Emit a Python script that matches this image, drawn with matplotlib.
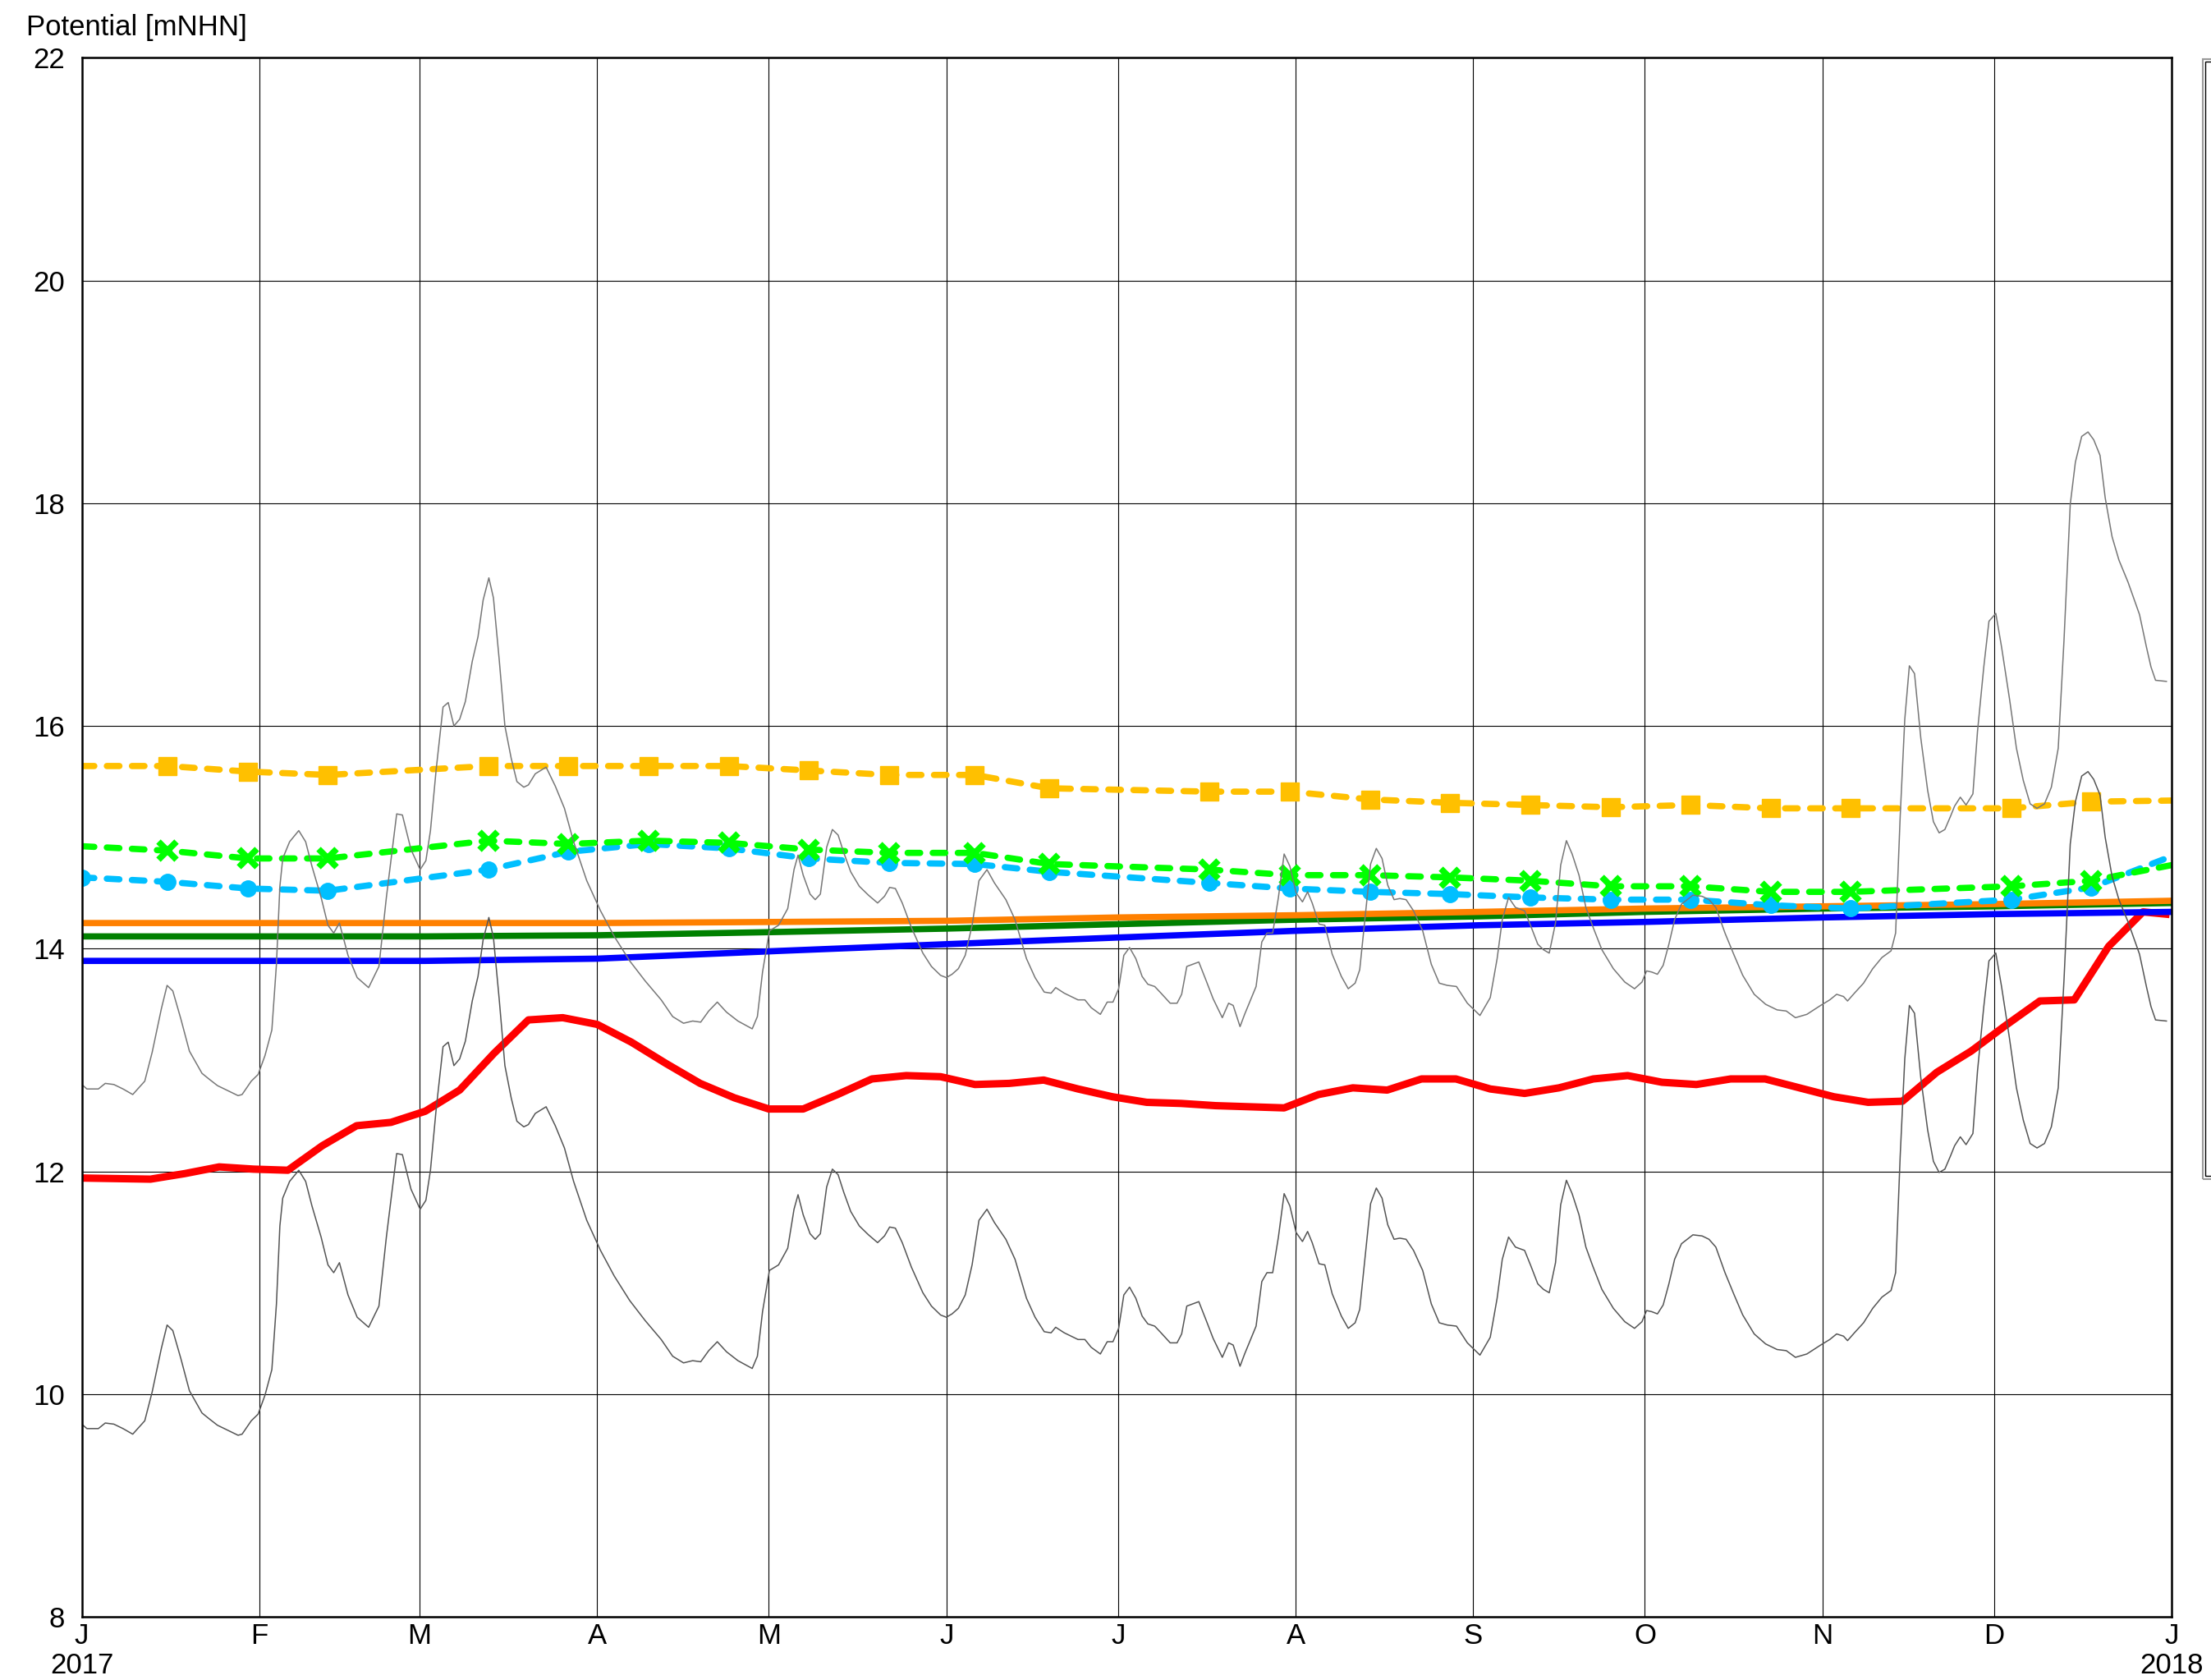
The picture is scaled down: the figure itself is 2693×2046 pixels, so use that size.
import datetime as dt
import matplotlib
matplotlib.use("Agg")
import matplotlib.pyplot as plt
from matplotlib.patches import Rectangle

plt.rcParams['font.family'] = ['Liberation Sans', 'DejaVu Sans']

# ---------------- data ----------------
month_labels = ['J', 'F', 'M', 'A', 'M', 'J', 'J', 'A', 'S', 'O', 'N', 'D', 'J']
year_labels = ['2017', '2018']
y_ticks = [8, 10, 12, 14, 16, 18, 20, 22]
y_label = 'Potential [mNHN]'

# day offsets from 2017-01-01 for the daily gauge records (grey)
gray_days = [
    0.0, 0.9, 2.9, 4.1, 5.6, 7.2, 8.9, 11.0, 12.3, 13.9,
    14.9, 15.9, 17.3, 18.8, 21.0, 22.2, 23.7, 25.7, 27.3, 28.0,
    29.6, 30.8, 32.0, 33.2, 34.0, 34.6, 35.1, 36.3, 37.9, 39.1,
    40.2, 41.8, 43.0, 44.0, 45.0, 46.5, 48.1, 50.1, 51.9, 53.2,
    54.4, 55.0, 56.0, 57.5, 59.1, 60.1, 60.9, 61.9, 63.1, 64.0,
    65.0, 66.0, 67.0, 68.2, 69.2, 70.1, 71.1, 71.9, 72.9, 73.9,
    75.0, 76.0, 77.2, 78.0, 79.2, 81.1, 82.7, 84.3, 85.9, 88.2,
    90.6, 93.0, 95.7, 98.4, 101.2, 103.2, 105.1, 106.7, 108.1, 109.5,
    111.0, 112.6, 114.6, 117.1, 118.0, 118.9, 120.1, 121.7, 123.3, 124.4,
    125.1, 126.0, 127.2, 128.1, 129.0, 130.1, 131.1, 132.1, 133.1, 134.3,
    135.8, 137.4, 139.0, 140.2, 141.1, 142.1, 143.3, 144.9, 146.9, 148.4,
    150.0, 151.0, 152.0, 153.1, 154.3, 155.5, 156.7, 158.1, 159.4, 161.4,
    163.0, 165.0, 166.5, 168.1, 169.3, 170.1, 171.6, 174.0, 175.2, 176.3,
    177.9, 179.1, 180.1, 181.1, 182.0, 183.0, 184.1, 185.2, 186.2, 187.4,
    188.5, 190.1, 191.3, 192.1, 193.0, 195.1, 196.4, 197.6, 199.2, 200.3,
    201.1, 202.3, 203.1, 205.1, 206.1, 207.0, 208.0, 209.0, 210.0, 211.0,
    212.1, 213.2, 214.1, 214.9, 216.1, 217.1, 218.4, 220.0, 221.2, 222.4,
    223.2, 223.9, 225.1, 226.1, 227.1, 228.1, 229.2, 230.2, 231.3, 232.6,
    234.2, 235.7, 237.1, 238.5, 240.1, 242.0, 244.2, 246.0, 247.2, 248.1,
    249.2, 250.4, 252.0, 253.1, 254.3, 255.3, 256.3, 257.4, 258.3, 259.3,
    260.3, 261.5, 262.7, 263.9, 265.5, 267.5, 269.5, 271.2, 272.5, 273.3,
    274.2, 275.2, 276.2, 277.2, 278.2, 279.4, 281.4, 283.0, 284.2, 285.4,
    287.0, 288.6, 290.1, 292.1, 294.1, 296.1, 297.7, 299.3, 301.3, 303.7,
    305.3, 306.5, 307.7, 308.4, 309.6, 311.2, 312.8, 314.4, 316.0, 316.8,
    317.6, 318.4, 319.2, 320.1, 321.2, 322.4, 323.4, 324.4, 325.4, 326.4,
    327.1, 328.1, 329.1, 330.3, 331.1, 332.2, 333.1, 334.3, 335.3, 336.7,
    337.9, 339.1, 340.3, 341.5, 342.8, 344.0, 345.2, 346.2, 347.3, 348.2,
    349.3, 350.4, 351.4, 352.5, 353.4, 354.6, 355.8, 357.4, 359.4, 360.6,
    361.4, 362.2, 364.1,
]
gray_upper = [
    12.78, 12.74, 12.74, 12.79, 12.78, 12.74, 12.69, 12.81, 13.07, 13.46,
    13.67, 13.62, 13.37, 13.08, 12.88, 12.83, 12.77, 12.72, 12.68, 12.69,
    12.81, 12.87, 13.04, 13.27, 13.86, 14.56, 14.81, 14.96, 15.06, 14.96,
    14.74, 14.46, 14.21, 14.14, 14.23, 13.94, 13.74, 13.65, 13.84, 14.46,
    14.96, 15.21, 15.20, 14.89, 14.71, 14.79, 15.06, 15.61, 16.17, 16.21,
    16.00, 16.06, 16.22, 16.58, 16.80, 17.13, 17.33, 17.15, 16.60, 16.00,
    15.71, 15.50, 15.45, 15.47, 15.57, 15.63, 15.46, 15.26, 14.96, 14.61,
    14.34, 14.11, 13.89, 13.71, 13.54, 13.39, 13.33, 13.35, 13.34, 13.44,
    13.52, 13.43, 13.35, 13.28, 13.39, 13.79, 14.16, 14.21, 14.36, 14.71,
    14.84, 14.66, 14.49, 14.44, 14.49, 14.91, 15.07, 15.02, 14.86, 14.69,
    14.56, 14.48, 14.41, 14.47, 14.55, 14.54, 14.41, 14.19, 13.96, 13.84,
    13.76, 13.74, 13.77, 13.82, 13.94, 14.21, 14.61, 14.71, 14.59, 14.44,
    14.26, 13.91, 13.74, 13.61, 13.60, 13.65, 13.60, 13.54, 13.54, 13.47,
    13.41, 13.52, 13.52, 13.64, 13.94, 14.01, 13.91, 13.75, 13.68, 13.66,
    13.60, 13.51, 13.51, 13.59, 13.84, 13.88, 13.71, 13.55, 13.38, 13.51,
    13.49, 13.30, 13.41, 13.66, 14.06, 14.14, 14.14, 14.46, 14.85, 14.74,
    14.50, 14.42, 14.51, 14.41, 14.22, 14.21, 13.95, 13.75, 13.64, 13.69,
    13.81, 14.16, 14.76, 14.90, 14.81, 14.57, 14.44, 14.45, 14.44, 14.34,
    14.16, 13.86, 13.69, 13.67, 13.66, 13.51, 13.40, 13.56, 13.91, 14.26,
    14.46, 14.37, 14.34, 14.20, 14.04, 13.99, 13.96, 14.23, 14.75, 14.97,
    14.85, 14.66, 14.37, 14.20, 13.99, 13.82, 13.70, 13.64, 13.70, 13.80,
    13.79, 13.77, 13.85, 14.04, 14.26, 14.40, 14.48, 14.47, 14.44, 14.37,
    14.14, 13.94, 13.76, 13.59, 13.50, 13.45, 13.44, 13.38, 13.41, 13.49,
    13.54, 13.59, 13.57, 13.53, 13.60, 13.69, 13.82, 13.92, 13.98, 14.14,
    15.19, 16.06, 16.54, 16.47, 15.89, 15.42, 15.14, 15.04, 15.07, 15.19,
    15.28, 15.36, 15.29, 15.39, 15.95, 16.53, 16.94, 17.01, 16.71, 16.24,
    15.80, 15.51, 15.30, 15.26, 15.30, 15.45, 15.80, 16.76, 17.99, 18.37,
    18.60, 18.64, 18.57, 18.43, 18.05, 17.70, 17.49, 17.29, 17.00, 16.71,
    16.53, 16.41, 16.40,
]
gray_lower = [
    9.73, 9.69, 9.69, 9.74, 9.73, 9.69, 9.64, 9.76, 10.02, 10.41,
    10.62, 10.57, 10.32, 10.03, 9.83, 9.78, 9.72, 9.67, 9.63, 9.64,
    9.76, 9.82, 9.99, 10.22, 10.81, 11.51, 11.76, 11.91, 12.01, 11.91,
    11.69, 11.41, 11.16, 11.09, 11.18, 10.89, 10.69, 10.60, 10.79, 11.41,
    11.91, 12.16, 12.15, 11.84, 11.66, 11.74, 12.01, 12.56, 13.12, 13.16,
    12.95, 13.01, 13.17, 13.53, 13.75, 14.08, 14.28, 14.10, 13.55, 12.95,
    12.66, 12.45, 12.40, 12.42, 12.52, 12.58, 12.41, 12.21, 11.91, 11.56,
    11.29, 11.06, 10.84, 10.66, 10.49, 10.34, 10.28, 10.30, 10.29, 10.39,
    10.47, 10.38, 10.30, 10.23, 10.34, 10.74, 11.11, 11.16, 11.31, 11.66,
    11.79, 11.61, 11.44, 11.39, 11.44, 11.86, 12.02, 11.97, 11.81, 11.64,
    11.51, 11.43, 11.36, 11.42, 11.50, 11.49, 11.36, 11.14, 10.91, 10.79,
    10.71, 10.69, 10.72, 10.77, 10.89, 11.16, 11.56, 11.66, 11.54, 11.39,
    11.21, 10.86, 10.69, 10.56, 10.55, 10.60, 10.55, 10.49, 10.49, 10.42,
    10.36, 10.47, 10.47, 10.59, 10.89, 10.96, 10.86, 10.70, 10.63, 10.61,
    10.55, 10.46, 10.46, 10.54, 10.79, 10.83, 10.66, 10.50, 10.33, 10.46,
    10.44, 10.25, 10.36, 10.61, 11.01, 11.09, 11.09, 11.41, 11.80, 11.69,
    11.45, 11.37, 11.46, 11.36, 11.17, 11.16, 10.90, 10.70, 10.59, 10.64,
    10.76, 11.11, 11.71, 11.85, 11.76, 11.52, 11.39, 11.40, 11.39, 11.29,
    11.11, 10.81, 10.64, 10.62, 10.61, 10.46, 10.35, 10.51, 10.86, 11.21,
    11.41, 11.32, 11.29, 11.15, 10.99, 10.94, 10.91, 11.18, 11.70, 11.92,
    11.80, 11.61, 11.32, 11.15, 10.94, 10.77, 10.65, 10.59, 10.65, 10.75,
    10.74, 10.72, 10.80, 10.99, 11.21, 11.35, 11.43, 11.42, 11.39, 11.32,
    11.09, 10.89, 10.71, 10.54, 10.45, 10.40, 10.39, 10.33, 10.36, 10.44,
    10.49, 10.54, 10.52, 10.48, 10.55, 10.64, 10.77, 10.87, 10.93, 11.09,
    12.14, 13.01, 13.49, 13.42, 12.84, 12.37, 12.09, 11.99, 12.02, 12.14,
    12.23, 12.31, 12.24, 12.34, 12.90, 13.48, 13.89, 13.96, 13.66, 13.19,
    12.75, 12.46, 12.25, 12.21, 12.25, 12.40, 12.75, 13.71, 14.94, 15.32,
    15.55, 15.59, 15.52, 15.38, 15.00, 14.65, 14.44, 14.24, 13.95, 13.66,
    13.48, 13.36, 13.35,
]

# red weekly series
red_days = [0, 12, 18, 24, 30, 36, 42, 48, 54, 60, 66, 72, 78, 84, 90, 96, 102,
            108, 114, 120, 126, 132, 138, 144, 150, 156, 162, 168, 174, 180, 186,
            192, 198, 204, 210, 216, 222, 228, 234, 240, 246, 252, 258, 264, 270,
            276, 282, 288, 294, 300, 306, 312, 318, 324, 330, 336, 342, 348, 354,
            360, 364]
red_values = [11.94, 11.93, 11.98, 12.04, 12.02, 12.01, 12.23, 12.41, 12.44, 12.54,
              12.73, 13.06, 13.36, 13.38, 13.32, 13.16, 12.97, 12.79, 12.66, 12.56,
              12.56, 12.69, 12.83, 12.86, 12.85, 12.78, 12.79, 12.82, 12.74, 12.67,
              12.62, 12.61, 12.59, 12.58, 12.57, 12.69, 12.75, 12.73, 12.83, 12.83,
              12.74, 12.70, 12.75, 12.83, 12.86, 12.80, 12.78, 12.83, 12.83, 12.75,
              12.67, 12.62, 12.63, 12.89, 13.08, 13.31, 13.53, 13.54, 14.02, 14.33,
              14.31]

# fortnightly series (first and last points are line ends without markers)
fort_days = [0, 15, 29, 43, 71, 85, 99, 113, 127, 141, 156, 169, 197, 211, 225,
             239, 253, 267, 281, 295, 309, 337, 351, 365]
gold_values = [15.64, 15.64, 15.59, 15.56, 15.64, 15.64, 15.64, 15.64, 15.60, 15.56,
               15.56, 15.44, 15.41, 15.41, 15.34, 15.31, 15.29, 15.27, 15.29, 15.26,
               15.26, 15.26, 15.32, 15.33]
lime_values = [14.92, 14.88, 14.81, 14.81, 14.97, 14.94, 14.97, 14.95, 14.89, 14.86,
               14.86, 14.76, 14.71, 14.66, 14.66, 14.64, 14.61, 14.56, 14.56, 14.51,
               14.51, 14.56, 14.61, 14.75]
sky_values = [14.64, 14.60, 14.54, 14.52, 14.71, 14.87, 14.94, 14.90, 14.81, 14.77,
              14.76, 14.69, 14.59, 14.54, 14.51, 14.49, 14.46, 14.44, 14.44, 14.39,
              14.36, 14.44, 14.55, 14.83]

# smooth model series
orange_days = [0, 90, 122, 151, 181, 212, 244, 273, 304, 334, 365]
orange_values = [14.23, 14.23, 14.24, 14.25, 14.28, 14.30, 14.33, 14.36, 14.38, 14.40, 14.43]
dkgreen_days = [0, 60, 90, 122, 151, 181, 212, 244, 273, 304, 334, 365]
dkgreen_values = [14.11, 14.11, 14.12, 14.15, 14.18, 14.22, 14.26, 14.29, 14.33, 14.36, 14.38, 14.41]
blue_days = [0, 60, 90, 122, 151, 181, 212, 244, 273, 304, 334, 365]
blue_values = [13.89, 13.89, 13.91, 13.98, 14.04, 14.10, 14.16, 14.21, 14.24, 14.28, 14.31, 14.33]

# ---------------- figure ----------------
W, H = 2693, 2046
FS = 25
fig = plt.figure(figsize=(W / 100, H / 100), dpi=100)
ax = fig.add_axes([99.6 / W, 1 - 1969 / H, (2645 - 99.6) / W, (1969 - 70.4) / H])

ax.plot(red_days, red_values, color='#FF0000', lw=6.5, solid_joinstyle='round', zorder=3)
ax.plot(dkgreen_days, dkgreen_values, color='#008000', lw=5.5, zorder=4)
ax.plot(orange_days, orange_values, color='#FF8000', lw=5.5, zorder=5)
ax.plot(blue_days, blue_values, color='#0000FF', lw=5.5, zorder=6)

n = len(fort_days)
dash_kw = dict(lw=5.5, dashes=(2.0, 2.0), dash_capstyle='round')
ax.plot(fort_days, sky_values, color='#00BFFF', marker='o', ms=14,
        markevery=list(range(0, n - 1)), zorder=7, **dash_kw)
ax.plot(fort_days, lime_values, color='#00FF00', marker='x', ms=16, mew=5.5,
        markevery=list(range(1, n - 1)), zorder=8, **dash_kw)
ax.plot(fort_days, gold_values, color='#FFC000', marker='s', ms=16,
        markevery=list(range(1, n - 1)), zorder=9, **dash_kw)

ax.plot(gray_days, gray_upper, color='#777777', lw=1.1, zorder=10)
ax.plot(gray_days, gray_lower, color='#555555', lw=1.1, zorder=10)

# axes
month_days = [(dt.date(2017, m, 1) - dt.date(2017, 1, 1)).days for m in range(1, 13)] + [365]
xlabels = list(month_labels)
xlabels[0] = month_labels[0] + '\n' + year_labels[0]
xlabels[-1] = month_labels[-1] + '\n' + year_labels[1]
ax.set_xlim(0, 365)
ax.set_ylim(min(y_ticks), max(y_ticks))
ax.set_xticks(month_days)
ax.set_xticklabels(xlabels, fontsize=FS, linespacing=1.1)
ax.set_yticks(y_ticks)
ax.set_yticklabels([str(v) for v in y_ticks], fontsize=FS)
ax.tick_params(axis='x', length=0, pad=5)
ax.tick_params(axis='y', length=0, pad=15)
ax.grid(True, color='black', lw=0.8, zorder=1)
ax.set_axisbelow(True)
for s in ax.spines.values():
    s.set_linewidth(1.8)
    s.set_zorder(20)

fig.text(32 / W, 1 - 43 / H, y_label, fontsize=FS, ha='left', va='baseline')

# legend frame (cut off at the right edge)
fig.patches.append(Rectangle((2683 / W, 1 - 1436 / H), 40 / W, (1436 - 72) / H,
                             transform=fig.transFigure, fill=False, ec='#999999', lw=1.5))
fig.patches.append(Rectangle((2686 / W, 1 - 1432 / H), 40 / W, (1432 - 75) / H,
                             transform=fig.transFigure, fill=False, ec='black', lw=1.0))

fig.savefig('out.png', dpi=100)
